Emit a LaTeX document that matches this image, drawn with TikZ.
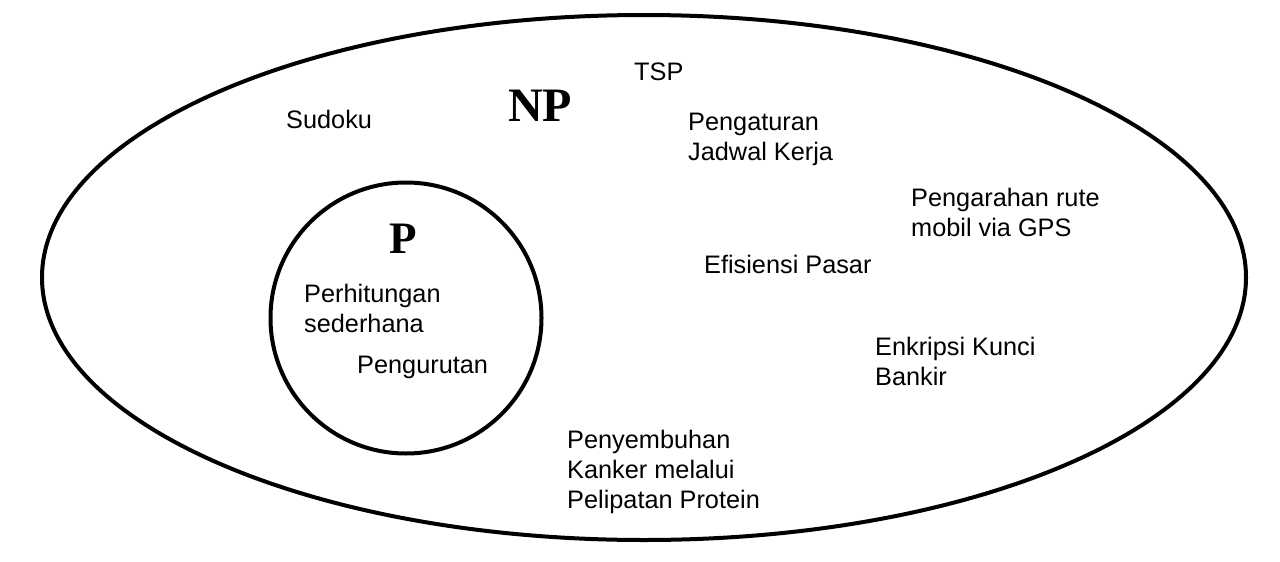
\documentclass[tikz,border=0pt]{standalone}
\usepackage{fontspec}
\setmainfont{Liberation Sans}
\newfontfamily\serifbold{Liberation Serif}
\tikzset{
  set/.style={line width=4pt},
  lbl/.style={anchor=base west, inner sep=0pt, font=\fontsize{25.3}{30}\selectfont},
  big/.style={anchor=base west, inner sep=0pt, font=\serifbold\bfseries\fontsize{48}{50}\selectfont},
}
\newcommand{\lines}[1]{\begin{tabular}[t]{@{}l@{}}#1\end{tabular}}
\begin{document}
\begin{tikzpicture}[x=1pt,y=-1pt]
\useasboundingbox (0,0) rectangle (1280,562);
\draw[set] (644,277.5) ellipse [x radius=602, y radius=262.5];
\draw[set] (406,318) circle [radius=135.5];
\node[big] (np) at (508,121) {NP};
\node[big, font=\serifbold\bfseries\fontsize{45}{48}\selectfont] (p) at (389,253) {P};
\node[lbl] (sudoku) at (286,128) {Sudoku};
\node[lbl] (tsp) at (634,80) {TSP};
\node[lbl] (jadwal) at (688,130) {\lines{Pengaturan\\Jadwal Kerja}};
\node[lbl] (gps) at (911,206) {\lines{Pengarahan rute\\mobil via GPS}};
\node[lbl] (pasar) at (704,273) {Efisiensi Pasar};
\node[lbl] (hitung) at (304,302) {\lines{Perhitungan\\sederhana}};
\node[lbl] (urut) at (357,373) {Pengurutan};
\node[lbl] (kunci) at (875,355) {\lines{Enkripsi Kunci\\Bankir}};
\node[lbl] (kanker) at (567,448) {\lines{Penyembuhan\\Kanker melalui\\Pelipatan Protein}};
\end{tikzpicture}
\end{document}
